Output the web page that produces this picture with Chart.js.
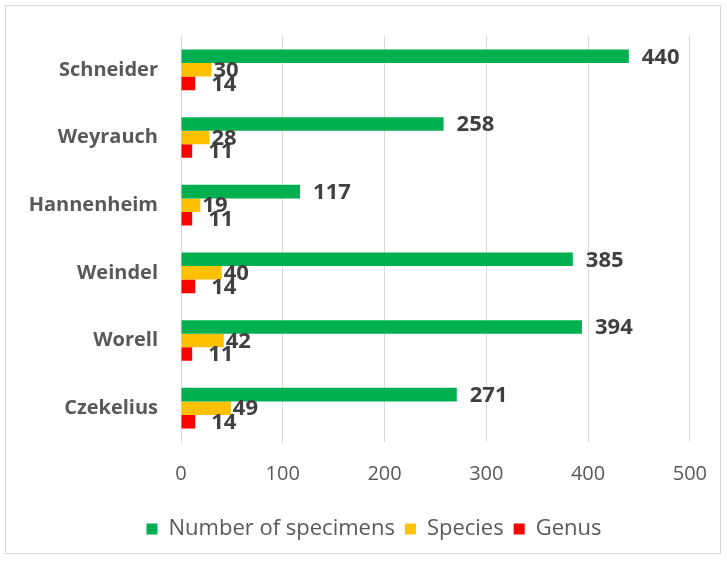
<!DOCTYPE html>
<html><head><meta charset="utf-8">
<script src="https://cdn.jsdelivr.net/npm/chart.js@4.4.0/dist/chart.umd.min.js"></script>
<style>
html,body{margin:0;padding:0;background:#fff;}
#wrap{position:absolute;left:0;top:0;width:727px;height:563px;}
#frame{position:absolute;left:5px;top:5px;width:716px;height:549px;border:1px solid #d9d9d9;box-sizing:border-box;pointer-events:none;}
</style></head>
<body>
<div id="wrap"><canvas id="c" width="727" height="563"></canvas><div id="frame"></div></div>
<script>
const categories = ["Schneider","Weyrauch","Hannenheim","Weindel","Worell","Czekelius"];
const specimens = [440,258,117,385,394,271];
const species = [30,28,19,40,42,49];
const genus = [14,11,11,14,11,14];
const xTicks = [0,100,200,300,400,500];

const FONT = '"Open Sans", sans-serif';
const labelOffsets = [13,2,16];
const labelPlugin = {
  id:'barLabels',
  afterDatasetsDraw(chart){
    const ctx = chart.ctx;
    ctx.save();
    ctx.font = 'bold 22px ' + FONT;
    ctx.fillStyle = '#404040';
    ctx.textBaseline = 'middle';
    ctx.textAlign = 'left';
    chart.data.datasets.forEach((ds,di)=>{
      const meta = chart.getDatasetMeta(di);
      meta.data.forEach((bar,i)=>{
        ctx.fillText(String(ds.data[i]), bar.x + labelOffsets[di], bar.y + 1);
      });
    });
    ctx.restore();
  }
};
const legendShift = {
  id:'legendShift',
  afterLayout(chart){
    const lg = chart.legend;
    const dx = 374 - (lg.left + lg.right) / 2;
    lg.left += dx; lg.right += dx;
  }
};

new Chart(document.getElementById('c'),{
  type:'bar',
  data:{
    labels:categories,
    datasets:[
      {label:'Number of specimens',data:specimens,backgroundColor:'#00B050'},
      {label:'Species',data:species,backgroundColor:'#FFC000'},
      {label:'Genus',data:genus,backgroundColor:'#FF0000'}
    ]
  },
  options:{
    indexAxis:'y',
    responsive:false,
    animation:false,
    datasets:{bar:{categoryPercentage:0.6,barPercentage:1.0}},
    layout:{padding:{left:0,right:29,top:36,bottom:13}},
    scales:{
      x:{
        min:0,max:500,
        afterBuildTicks(s){ s.ticks = xTicks.map(v=>({value:v})); },
        afterFit(s){ s.height = 66; },
        grid:{color:'#d9d9d9',drawTicks:false},
        border:{display:false},
        ticks:{color:'#595959',font:{family:FONT,size:20},padding:20}
      },
      y:{
        afterFit(s){ s.width = 181; },
        grid:{display:false,drawTicks:false},
        border:{display:false},
        ticks:{color:'#595959',font:{family:FONT,size:20,weight:'bold'},padding:23}
      }
    },
    plugins:{
      legend:{
        position:'bottom',
        labels:{
          color:'#595959',
          font:{family:FONT,size:22},
          boxWidth:11,boxHeight:11,padding:10
        }
      },
      tooltip:{enabled:false}
    }
  },
  plugins:[labelPlugin, legendShift]
});
</script>
</body></html>
